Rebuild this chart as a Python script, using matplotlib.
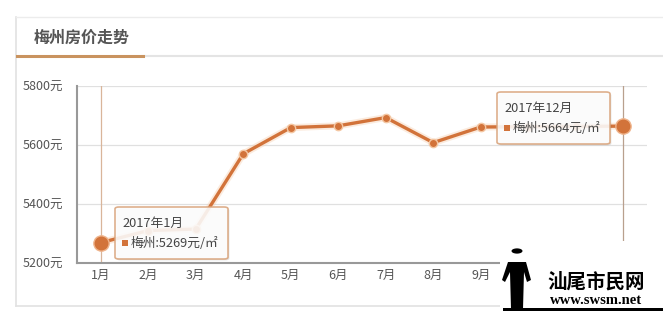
import matplotlib
matplotlib.use("Agg")
import matplotlib.pyplot as plt
from matplotlib.patches import FancyBboxPatch, Rectangle, Circle, Polygon
from matplotlib.lines import Line2D
import matplotlib.patheffects as pe

plt.rcParams['font.family'] = ['Noto Sans CJK SC', 'DejaVu Sans']

months = ['1月', '2月', '3月', '4月', '5月', '6月', '7月', '8月', '9月', '10月', '11月', '12月']
prices = [5269, 5310, 5315, 5570, 5659, 5665, 5693, 5608, 5661, 5662, 5663, 5664]
yticks = [5200, 5400, 5600, 5800]
ytick_labels = ['5200元', '5400元', '5600元', '5800元']
title = '梅州房价走势'
tip1 = ('2017年1月', '梅州:5269元/㎡')
tip2 = ('2017年12月', '梅州:5664元/㎡')

W, H = 663, 317
fig = plt.figure(figsize=(W / 100, H / 100), dpi=100)
fig.patch.set_facecolor('white')

def fx(px):
    return px / W

def fy(py):
    return 1 - py / H

# panel frame
fig.add_artist(Line2D([fx(16), fx(16)], [fy(17), fy(306)], color='#e2e2e2', lw=1.2))
fig.add_artist(Line2D([fx(16), fx(663)], [fy(306), fy(306)], color='#e2e2e2', lw=1.2))
fig.add_artist(Line2D([fx(16), fx(663)], [fy(17), fy(17)], color='#ececec', lw=1.0))
fig.add_artist(Line2D([fx(143), fx(663)], [fy(56), fy(56)], color='#e4e4e4', lw=1.5))
fig.add_artist(Line2D([fx(17), fx(143)], [fy(56), fy(56)], color='#c9935f', lw=2.2))
fig.text(fx(34), fy(38), title, fontsize=11.5, fontweight='bold', color='#555555',
         va='center', ha='left')

# axes
ax = fig.add_axes([fx(77), fy(263), fx(647) - fx(77), (263 - 86) / H])
ax.set_facecolor('none')
x = list(range(len(months)))
ax.set_xlim(-0.5, len(months) - 0.5)
ax.set_ylim(5200, 5800)
ax.set_yticks(yticks)
ax.set_yticklabels(ytick_labels)
ax.set_xticks(x)
ax.set_xticklabels(months)
ax.tick_params(length=0, labelsize=9, colors='#555555')
ax.tick_params(axis='y', pad=10)
ax.tick_params(axis='x', pad=4)
# labels of the last months sit under the watermark in the source image
for lbl in ax.get_xticklabels()[9:]:
    lbl.set_visible(False)
for s in ['top', 'right']:
    ax.spines[s].set_visible(False)
ax.spines['left'].set_color('#999999')
ax.spines['left'].set_linewidth(1.5)
ax.spines['bottom'].set_color('#999999')
ax.spines['bottom'].set_linewidth(1.5)
ax.grid(axis='y', color='#e0e0e0', lw=0.9)
ax.set_axisbelow(True)

# crosshair lines at first and last months
ax.axvline(x[0], color='#d9b59a', lw=0.9, zorder=1)
ax.axvline(x[-1], color='#b9a08e', lw=0.9, zorder=1)

color = '#d2733a'
ax.plot(x, prices, color='#f7d3b6', lw=5, alpha=0.45, solid_capstyle='round', zorder=2)
ax.plot(x, prices, color=color, lw=2.4, zorder=3,
        marker='o', markersize=6, markerfacecolor=color, markeredgecolor='#f4c7a3',
        markeredgewidth=1.0)
ax.plot([x[0], x[-1]], [prices[0], prices[-1]], linestyle='none', marker='o',
        markersize=11, color=color, markeredgecolor='#efb48c', markeredgewidth=1, zorder=4)

# tooltips
def tooltip(x0, y0, x1, y1, lines):
    box = FancyBboxPatch((fx(x0), fy(y1)), fx(x1) - fx(x0), fy(y0) - fy(y1),
                         boxstyle='round,pad=0,rounding_size=0.006',
                         transform=fig.transFigure, facecolor='white', alpha=0.88,
                         edgecolor='#d9a47c', lw=1.2, zorder=10)
    box.set_path_effects([pe.SimplePatchShadow(offset=(1, -1), alpha=0.15), pe.Normal()])
    fig.add_artist(box)
    fig.text(fx(x0 + 7), fy(y0 + 16), lines[0], fontsize=9.2, color='#444444',
             va='center', ha='left', zorder=11)
    fig.add_artist(Rectangle((fx(x0 + 7), fy(y0 + 39)), fx(6), 6 / H,
                             transform=fig.transFigure, facecolor=color,
                             edgecolor='none', zorder=11))
    fig.text(fx(x0 + 16), fy(y0 + 36), lines[1], fontsize=9.2, color='#444444',
             va='center', ha='left', zorder=11)

tooltip(115, 207, 228, 259, tip1)
tooltip(497, 92, 610, 144, tip2)

# watermark
fig.add_artist(Rectangle((fx(500), fy(314)), fx(163), 73 / H, transform=fig.transFigure,
                         facecolor='white', edgecolor='none', zorder=20))
fig.add_artist(Rectangle((fx(503), fy(311)), fx(160), 3 / H, transform=fig.transFigure,
                         facecolor='black', edgecolor='none', zorder=21))
fig.add_artist(Circle((fx(517), fy(251)), 5.5 / W, transform=fig.transFigure,
                      facecolor='black', edgecolor='none', zorder=21))
fig.add_artist(Polygon([(fx(508), fy(262)), (fx(526), fy(262)), (fx(531), fy(280)),
                        (fx(527), fy(282)), (fx(524), fy(272)), (fx(523), fy(309)),
                        (fx(511), fy(309)), (fx(510), fy(272)), (fx(505), fy(282)),
                        (fx(502), fy(280))],
                       closed=True, transform=fig.transFigure, facecolor='black',
                       edgecolor='none', zorder=21))
fig.text(fx(596), fy(282), '汕尾市民网', fontsize=14, fontweight='bold', color='black',
         family=['Noto Sans CJK SC', 'DejaVu Sans'], ha='center', va='center', zorder=22)
fig.text(fx(596), fy(301), 'www.swsm.net', fontsize=10.5, fontweight='bold', color='black',
         family=['Liberation Serif', 'DejaVu Serif'], ha='center', va='center', zorder=22)

fig.savefig('out.png', dpi=100, facecolor='white')
